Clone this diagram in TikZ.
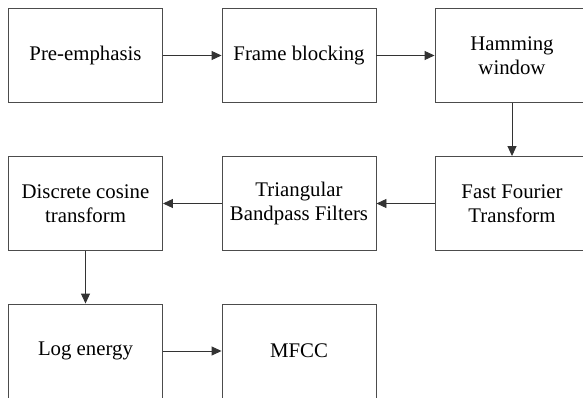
\documentclass[tikz,border=0pt]{standalone}
\usepackage{fontspec}
\setmainfont{Liberation Serif}
\usetikzlibrary{arrows.meta}
\begin{document}
\begin{tikzpicture}[x=1pt,y=-1pt,
  stepbox/.style={draw=black!70,line width=0.9pt,minimum width=154pt,minimum height=94pt,inner sep=0pt,align=center,font=\fontsize{20.8}{24}\selectfont},
  flow/.style={draw=black!80,line width=0.9pt,-{Triangle[length=10pt,width=9pt]}}]
\useasboundingbox (0,0) rectangle (583,398);
\clip (0,0) rectangle (583,398);
\node[stepbox] (pre) at (85.5,55.5) {Pre-emphasis};
\node[stepbox] (frame) at (299,55.5) {Frame blocking};
\node[stepbox] (ham) at (512,55.5) {Hamming\\window};
\node[stepbox] (fft) at (512,203.5) {Fast Fourier\\Transform};
\node[stepbox] (tri) at (299,203.5) {Triangular\\Bandpass Filters};
\node[stepbox] (dct) at (85.5,203.5) {Discrete cosine\\transform};
\node[stepbox] (log) at (85.5,351) {Log energy};
\node[stepbox] (mfcc) at (299,351) {MFCC};
\draw[flow] (pre) -- (frame);
\draw[flow] (frame) -- (ham);
\draw[flow] (ham) -- (fft);
\draw[flow] (fft) -- (tri);
\draw[flow] (tri) -- (dct);
\draw[flow] (dct) -- (log);
\draw[flow] (log) -- (mfcc);
\end{tikzpicture}
\end{document}
